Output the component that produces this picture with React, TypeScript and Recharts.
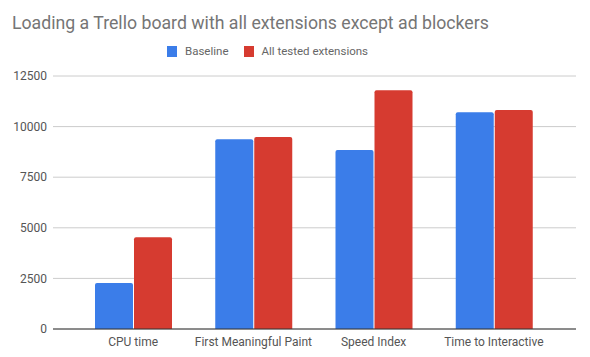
import React from 'react';
import { BarChart, Bar, XAxis, YAxis, CartesianGrid } from 'recharts';

const categories = ['CPU time', 'First Meaningful Paint', 'Speed Index', 'Time to Interactive'];
const baseline = [2270, 9380, 8840, 10710];
const allExtensions = [4530, 9490, 11800, 10820];
const yTicks = [0, 2500, 5000, 7500, 10000, 12500];
const seriesNames = ['Baseline', 'All tested extensions'];

const BLUE = '#3b7de9';
const RED = '#d63b30';
const FONT = 'Roboto, "Noto Sans", sans-serif';

const data = categories.map((name, i) => ({
  name,
  baseline: baseline[i],
  all: allExtensions[i]
}));

const swatch = (color: string) =>
<span style={{ width: 10, height: 11, background: color, display: 'inline-block', marginRight: 8 }} />;


export default function App() {
  return (
    <div style={{ position: 'absolute', left: 0, top: 0, width: 590, height: 357, background: '#fff' }}>
      <div
        style={{
          position: 'absolute',
          left: 12,
          top: 11,
          fontFamily: FONT,
          fontSize: 17.7,
          lineHeight: '24px',
          color: '#757575',
          whiteSpace: 'nowrap'
        }}>
        
        Loading a Trello board with all extensions except ad blockers
      </div>
      <div
        style={{
          position: 'absolute',
          left: 167,
          top: 44,
          display: 'flex',
          alignItems: 'center',
          fontFamily: FONT,
          fontSize: 11.5,
          lineHeight: '15px',
          color: '#666',
          whiteSpace: 'nowrap'
        }}>
        
        <span style={{ display: 'flex', alignItems: 'center' }}>
          {swatch(BLUE)}
          {seriesNames[0]}
        </span>
        <span style={{ display: 'flex', alignItems: 'center', marginLeft: 15 }}>
          {swatch(RED)}
          {seriesNames[1]}
        </span>
      </div>
      <BarChart
        width={590}
        height={357}
        data={data}
        margin={{ top: 76, right: 14, bottom: 0, left: 0 }}
        barGap={1}
        barSize={38}>
        
        <CartesianGrid vertical={false} stroke="#cccccc" />
        <XAxis
          dataKey="name"
          height={28}
          tickLine={false}
          axisLine={{ stroke: '#333333' }}
          padding={{ left: 20, right: 22 }}
          tick={{ fill: '#555', fontSize: 12, fontFamily: FONT }}
          interval={0} />
        
        <YAxis
          width={53}
          domain={[0, 12500]}
          ticks={yTicks}
          tickLine={false}
          axisLine={false}
          tickMargin={0}
          tick={{ fill: '#555', fontSize: 12, fontFamily: FONT }} />
        
        <Bar dataKey="baseline" name={seriesNames[0]} fill={BLUE} radius={[2, 2, 0, 0]} isAnimationActive={false} />
        <Bar dataKey="all" name={seriesNames[1]} fill={RED} radius={[2, 2, 0, 0]} isAnimationActive={false} />
      </BarChart>
    </div>);

}
